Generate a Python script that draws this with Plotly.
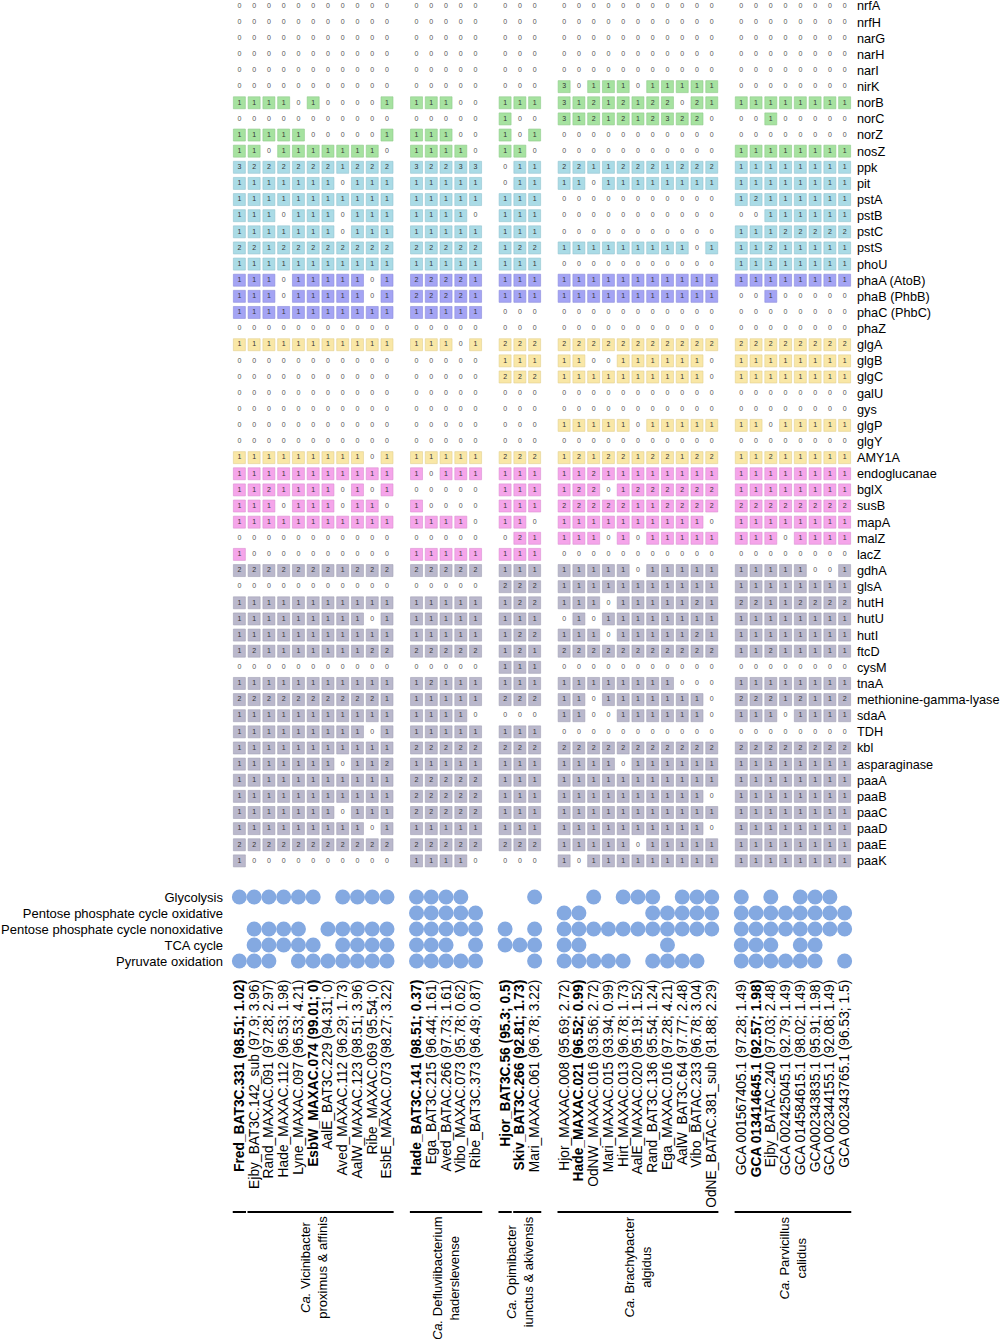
import plotly.graph_objects as go

# ---------------- data ----------------
genes = ["nrfA", "nrfH", "narG", "narH", "narI", "nirK", "norB", "norC", "norZ", "nosZ",
         "ppk", "pit", "pstA", "pstB", "pstC", "pstS", "phoU",
         "phaA (AtoB)", "phaB (PhbB)", "phaC (PhbC)", "phaZ",
         "glgA", "glgB", "glgC", "galU", "gys", "glgP", "glgY", "AMY1A",
         "endoglucanae", "bglX", "susB", "mapA", "malZ", "lacZ",
         "gdhA", "glsA", "hutH", "hutU", "hutI", "ftcD", "cysM", "tnaA",
         "methionine-gamma-lyase", "sdaA", "TDH", "kbl", "asparaginase",
         "paaA", "paaB", "paaC", "paaD", "paaE", "paaK"]

categories = ["Nitrogen cycling", "poly-P accumulation", "PHA accumulation",
              "Glycogen accumulation", "Polysacharide degradation",
              "Amino acids and<br>aromatic amino acid use"]
category_sizes = [10, 7, 4, 8, 6, 19]
category_colors = ["#A6E2A0", "#AADBE6", "#A4A4F4", "#F9E7A6", "#F5A5EA", "#BAB8CC"]
category_edges = ["#8FCB89", "#92C4D0", "#8C8CDC", "#E2D08F", "#DC8ED2", "#A3A1B6"]

group_names = ["<i>Ca.</i> Vicinibacter<br>proximus & affinis",
               "<i>Ca.</i> Defluviibacterium<br>haderslevense",
               "<i>Ca.</i> Opimibacter<br>iunctus & akivensis",
               "<i>Ca.</i> Brachybacter<br>algidus",
               "<i>Ca.</i> Parvicillus<br>calidus"]
group_sizes = [11, 5, 3, 11, 8]
subgroup_sizes = [[1, 10], [5], [1, 2], [11], [8]]

genome_labels = [
    "Fred_BAT3C.331 (98.51; 1.02)", "Ejby_BAT3C.142_sub (97.9; 3.96)", "Rand_MAXAC.091 (97.28; 2.97)",
    "Hade_MAXAC.112 (96.53; 1.98)", "Lyne_MAXAC.097 (96.53; 4.21)", "EsbW_MAXAC.074 (99.01; 0)",
    "AalE_BAT3C.229 (94.31; 0)", "Aved_MAXAC.112 (96.29; 1.73)", "AalW_MAXAC.123 (98.51; 3.96)",
    "Ribe_MAXAC.069 (95.54; 0)", "EsbE_MAXAC.073 (98.27; 3.22)",
    "Hade_BAT3C.141 (98.51; 0.37)", "Ega_BAT3C.215 (96.44; 1.61)", "Aved_BATAC.266 (97.73; 1.61)",
    "Vibo_MAXAC.073 (95.78; 0.62)", "Ribe_BAT3C.373 (96.49; 0.87)",
    "Hjor_BAT3C.56 (95.3; 0.5)", "Skiv_BAT3C.266 (92.81; 1.73)", "Mari_MAXAC.061 (96.78; 3.22)",
    "Hjor_MAXAC.008 (95.69; 2.72)", "Hade_MAXAC.021 (96.52; 0.99)", "OdNW_MAXAC.016 (93.56; 2.72)",
    "Mari_MAXAC.015 (93.94; 0.99)", "Hirt_MAXAC.013 (96.78; 1.73)", "AalE_MAXAC.020 (95.19; 1.52)",
    "Rand_BAT3C.136 (95.54; 1.24)", "Ega_MAXAC.016 (97.28; 4.21)", "AalW_BAT3C.64 (97.77; 2.48)",
    "Vibo_BATAC.233 (96.78; 3.04)", "OdNE_BATAC.381_sub (91.88; 2.29)",
    "GCA 001567405.1 (97.28; 1.49)", "GCA 013414645.1 (92.57; 1.98)", "Ejby_BATAC.240 (97.03; 2.48)",
    "GCA 002425045.1 (92.79; 1.49)", "GCA 014584615.1 (98.02; 1.49)", "GCA002343835.1 (95.91; 1.98)",
    "GCA 002344155.1 (92.08; 1.49)", "GCA 002343765.1 (96.53; 1.5)"]
bold_genomes = [0, 5, 11, 16, 17, 20, 31]

# gene copy numbers, one string per gene (row), one digit per genome
vicinibacter = [
    "00000000000", "00000000000", "00000000000", "00000000000", "00000000000", "00000000000",
    "11110100001", "00000000000", "11111000001", "11011111110",
    "32222221222", "11111110111", "11111111111", "11101110111", "11111110111", "22122222222", "11111111111",
    "11101111101", "11101111101", "11111111111", "00000000000",
    "11111111111", "00000000000", "00000000000", "00000000000", "00000000000", "00000000000", "00000000000", "11111111101",
    "11111111111", "11211110101", "11101110110", "11111111111", "00000000000", "10000000000",
    "22222221222", "00000000000", "11111111111", "11111111101", "11111111111", "12111111122", "00000000000",
    "11111111111", "22222222221", "11111111111", "11111111101", "11111111111", "11111110112",
    "11111111111", "11111111111", "11111110111", "11111111101", "22222222222", "10000000000"]
defluviibacterium = [
    "00000", "00000", "00000", "00000", "00000", "00000",
    "11100", "00000", "11100", "11110",
    "32233", "11111", "11111", "11110", "11111", "22222", "11111",
    "22221", "22221", "11111", "00000",
    "11101", "00000", "00000", "00000", "00000", "00000", "00000", "11111",
    "10111", "00000", "10000", "11110", "00000", "11111",
    "22222", "00000", "11111", "11111", "11111", "22222", "00000",
    "12111", "11111", "11110", "11111", "22222", "11111",
    "22222", "22222", "22222", "11111", "22222", "11110"]
opimibacter = [
    "000", "000", "000", "000", "000", "000",
    "111", "100", "101", "110",
    "011", "011", "111", "111", "111", "122", "111",
    "111", "111", "000", "000",
    "222", "111", "222", "000", "000", "000", "000", "222",
    "111", "111", "111", "110", "021", "111",
    "111", "222", "122", "111", "122", "121", "111",
    "111", "222", "000", "111", "222", "111",
    "111", "111", "111", "111", "222", "000"]
brachybacter = [
    "00000000000", "00000000000", "00000000000", "00000000000", "00000000000", "30111011111",
    "31212122021", "31212123220", "00000000000", "00000000000",
    "22112221222", "11011111111", "00000000000", "00000000000", "00000000000", "11111111101", "00000000000",
    "11111111111", "11111111111", "00000000000", "00000000000",
    "22222222222", "11001111110", "11111111110", "00000000000", "00000000000", "11111011111", "00000000000", "12122122122",
    "11211111111", "12201222222", "22222112222", "11111111110", "11101011111", "00000000000",
    "11111011111", "11111111111", "11101111121", "01011111111", "11101111121", "22222222222", "00000000000",
    "11111111000", "11011111110", "11001111110", "00000000000", "22222222222", "11110111111",
    "11111111111", "11111111110", "11111111111", "11111111110", "11111011111", "10111111111"]
parvicillus = [
    "00000000", "00000000", "00000000", "00000000", "00000000", "00000000",
    "11111111", "00100000", "00000000", "11111111",
    "11111111", "11111111", "12111111", "00111111", "11122222", "11211111", "11111111",
    "11111111", "00100000", "00000000", "00000000",
    "22222222", "11111111", "11111111", "00000000", "00000000", "11011111", "00000000", "11211111",
    "11111111", "11111111", "22222222", "11111111", "11101111", "00000000",
    "11111001", "11111111", "22112222", "11111111", "11111111", "11211111", "00000000",
    "11111111", "22212112", "11101111", "00000000", "22222222", "11111111",
    "11111111", "11111111", "11111111", "11111111", "11111111", "11111111"]
group_values = [vicinibacter, defluviibacterium, opimibacter, brachybacter, parvicillus]

pathways = ["Glycolysis", "Pentose phosphate cycle oxidative",
            "Pentose phosphate cycle nonoxidative", "TCA cycle", "Pyruvate oxidation"]
# presence (1) / absence (0) of each pathway, per group
pathway_presence = {
    "Glycolysis":                           ["11111101111", "11110", "001", "00101110111", "10101110"],
    "Pentose phosphate cycle oxidative":    ["00000000000", "11111", "000", "11000011111", "11111111"],
    "Pentose phosphate cycle nonoxidative": ["01111011111", "11111", "101", "11111111111", "11111111"],
    "TCA cycle":                            ["01111101111", "11101", "111", "11000001000", "11101100"],
    "Pyruvate oxidation":                   ["11101111111", "11111", "001", "11111011110", "11111101"],
}

# ---------------- derived positions ----------------
slots = []
group_slot_ranges = []
s = 0
for g in group_sizes:
    group_slot_ranges.append((s, s + g - 1))
    slots.extend(range(s, s + g))
    s += g + 1
last_slot = slots[-1]

matrix_rows = []
for r in range(len(genes)):
    row = []
    for gv in group_values:
        row.extend(int(ch) for ch in gv[r])
    matrix_rows.append(row)

row_category = []
for ci, n in enumerate(category_sizes):
    row_category.extend([ci] * n)

FONT = "Arial, Liberation Sans, sans-serif"
fig = go.Figure()

for ci in range(len(categories)):
    xs, ys, ts = [], [], []
    for r, row in enumerate(matrix_rows):
        if row_category[r] != ci:
            continue
        for j, v in enumerate(row):
            if v > 0:
                xs.append(slots[j]); ys.append(r); ts.append(str(v))
    fig.add_trace(go.Scatter(
        x=xs, y=ys, text=ts, mode="markers+text", xaxis="x2", yaxis="y",
        marker=dict(symbol="square", size=12, color=category_colors[ci],
                    line=dict(color=category_edges[ci], width=0.6)),
        textfont=dict(size=7, color="#333333", family=FONT),
        textposition="middle center", hoverinfo="skip", showlegend=False,
        cliponaxis=False))

zx, zy = [], []
for r, row in enumerate(matrix_rows):
    for j, v in enumerate(row):
        if v == 0:
            zx.append(slots[j]); zy.append(r)
fig.add_trace(go.Scatter(
    x=zx, y=zy, text=["0"] * len(zx), mode="text", xaxis="x2", yaxis="y",
    textfont=dict(size=7, color="#555555", family=FONT),
    textposition="middle center", hoverinfo="skip", showlegend=False,
    cliponaxis=False))

cx, cy = [], []
for pi, p in enumerate(pathways):
    flags = "".join(pathway_presence[p])
    for j, f in enumerate(flags):
        if f == "1":
            cx.append(slots[j]); cy.append(pi)
fig.add_trace(go.Scatter(
    x=cx, y=cy, mode="markers", xaxis="x", yaxis="y2",
    marker=dict(symbol="circle", size=15, color="#84A9E1", line=dict(width=0)),
    hoverinfo="skip", showlegend=False, cliponaxis=False))

shapes = []
annotations = []
start = 0
for ci, n in enumerate(category_sizes):
    end = start + n - 1
    shapes.append(dict(type="rect", xref="x2", yref="y", x0=-1.48, x1=-0.87,
                       y0=start - 0.28, y1=end + 0.38,
                       fillcolor=category_colors[ci], line=dict(width=0), layer="below"))
    annotations.append(dict(text=categories[ci], xref="x2", yref="y", x=-1.78,
                            y=(start + end) / 2, xanchor="right", yanchor="middle",
                            showarrow=False, align="center",
                            font=dict(size=13, color="black", family=FONT)))
    start = end + 1

PLOT_H = 974.0
def paper_y(pix):
    return 1 - pix / PLOT_H

for gi, (a, b) in enumerate(group_slot_ranges):
    sub_start = a
    for n in subgroup_sizes[gi]:
        shapes.append(dict(type="line", xref="x", yref="paper",
                           x0=sub_start - 0.45, x1=sub_start + n - 1 + 0.45,
                           y0=paper_y(1212), y1=paper_y(1212),
                           line=dict(color="black", width=2)))
        sub_start += n
    annotations.append(dict(text=group_names[gi], xref="x", yref="paper",
                            x=(a + b) / 2, y=paper_y(1214),
                            xanchor="center", yanchor="top", textangle=-90,
                            showarrow=False, align="center",
                            font=dict(size=13, color="black", family=FONT)))

ticktext = [("<b>%s</b>" % t) if i in bold_genomes else t for i, t in enumerate(genome_labels)]

row_h = 16.13
heat_h = 870.0
circ_top, circ_bot = 885.0, PLOT_H
fig.update_layout(
    width=1000, height=1339,
    margin=dict(l=231.6, r=147.6, t=0, b=1339 - PLOT_H, autoexpand=False),
    paper_bgcolor="white", plot_bgcolor="white",
    font=dict(family=FONT, color="black"),
    showlegend=False,
    xaxis=dict(domain=[0, 1], anchor="y2", range=[-0.5, last_slot + 0.5],
               tickvals=slots, ticktext=ticktext, tickangle=-90,
               tickfont=dict(size=13.8, color="black", family=FONT),
               showgrid=False, zeroline=False, showline=False, ticks="",
               ticklabelstandoff=2, automargin=False, ticklabeloverflow="allow"),
    xaxis2=dict(domain=[0, 1], anchor="y", matches="x", range=[-0.5, last_slot + 0.5],
                showticklabels=False, showgrid=False, zeroline=False, showline=False,
                ticks="", automargin=False),
    yaxis=dict(domain=[1 - heat_h / PLOT_H, 1], anchor="x2",
               range=[-6 / row_h + heat_h / row_h, -6 / row_h],
               tickvals=list(range(len(genes))), ticktext=genes, side="right",
               tickfont=dict(size=12.7, color="black", family=FONT),
               showgrid=False, zeroline=False, showline=False, ticks="",
               ticklabelstandoff=4, automargin=False, ticklabeloverflow="allow"),
    yaxis2=dict(domain=[0, (circ_bot - circ_top) / PLOT_H], anchor="x",
                range=[-(897 - circ_top) / 16 + (circ_bot - circ_top) / 16, -(897 - circ_top) / 16],
                tickvals=list(range(len(pathways))), ticktext=pathways,
                tickfont=dict(size=13, color="black", family=FONT),
                showgrid=False, zeroline=False, showline=False, ticks="",
                ticklabelstandoff=8, automargin=False, ticklabeloverflow="allow"),
    shapes=shapes,
    annotations=annotations,
)

page_fix = ("document.body.style.margin='0';document.body.style.overflow='hidden';"
            "var gd=document.getElementById('{plot_id}');"
            "Plotly.relayout(gd,{width:1000,height:1339});")
fig.write_html("out.html", config={"responsive": False, "displayModeBar": False},
               post_script=page_fix)
